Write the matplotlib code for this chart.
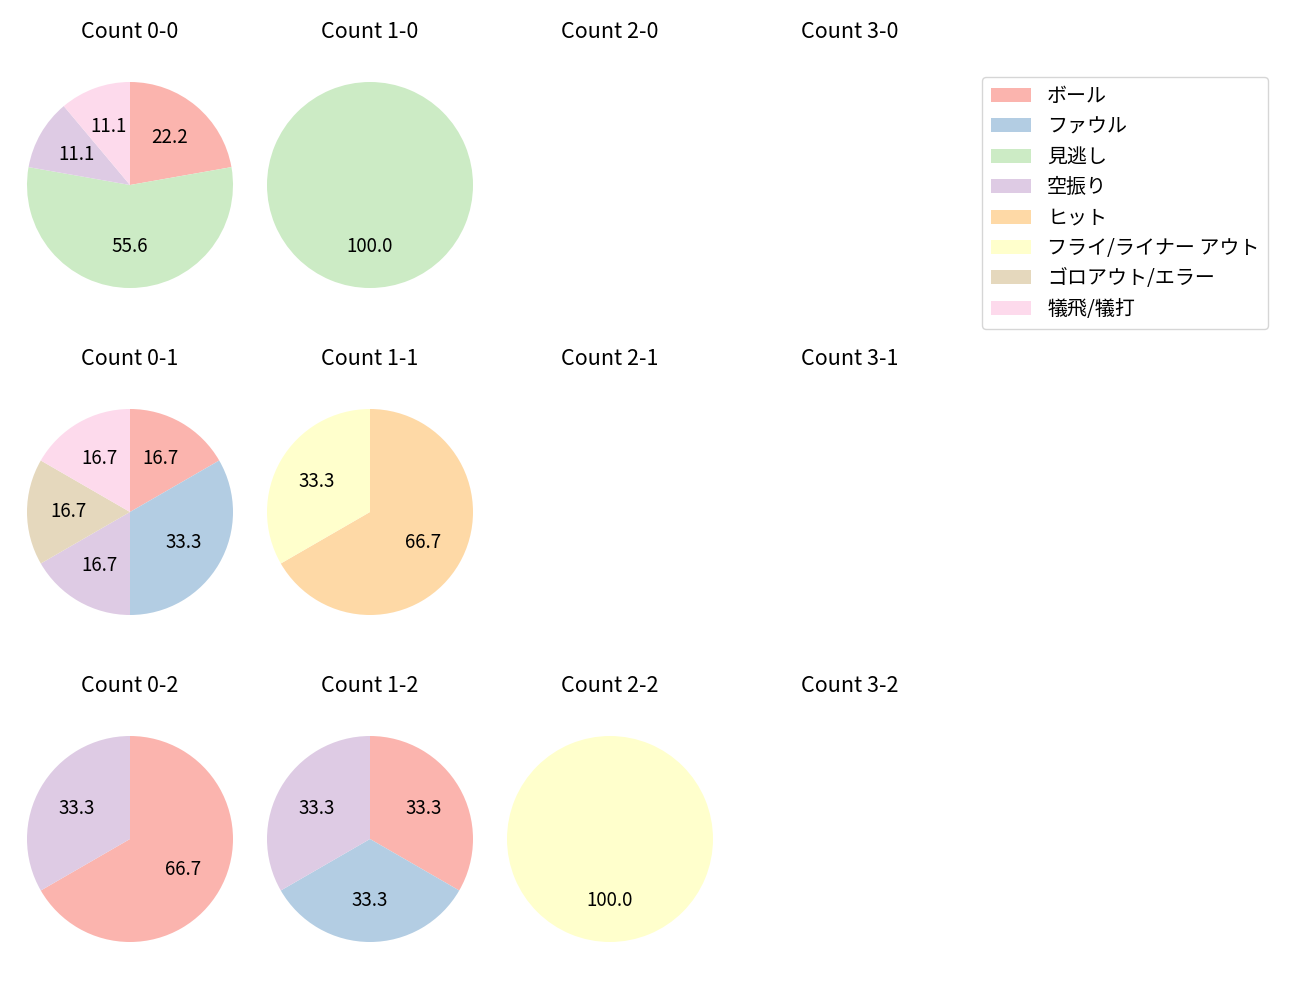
import matplotlib
matplotlib.use('Agg')
import matplotlib.pyplot as plt
from matplotlib.patches import Patch

plt.rcParams['font.family'] = ['Noto Sans CJK JP', 'DejaVu Sans']

# result categories (legend order)
labels = ['ボール', 'ファウル', '見逃し', '空振り', 'ヒット',
          'フライ/ライナー アウト', 'ゴロアウト/エラー', '犠飛/犠打']
colors = plt.cm.Pastel1.colors[:8]

# counts per ball-strike situation, in legend order
balls = [0, 1, 2, 3]
strikes = [0, 1, 2]
counts = {
    (0, 0): [2, 0, 5, 1, 0, 0, 0, 1],
    (1, 0): [0, 0, 1, 0, 0, 0, 0, 0],
    (2, 0): [0, 0, 0, 0, 0, 0, 0, 0],
    (3, 0): [0, 0, 0, 0, 0, 0, 0, 0],
    (0, 1): [1, 2, 0, 1, 0, 0, 1, 1],
    (1, 1): [0, 0, 0, 0, 2, 1, 0, 0],
    (2, 1): [0, 0, 0, 0, 0, 0, 0, 0],
    (3, 1): [0, 0, 0, 0, 0, 0, 0, 0],
    (0, 2): [2, 0, 0, 1, 0, 0, 0, 0],
    (1, 2): [1, 1, 0, 1, 0, 0, 0, 0],
    (2, 2): [0, 0, 0, 0, 0, 1, 0, 0],
    (3, 2): [0, 0, 0, 0, 0, 0, 0, 0],
}

W, H = 1300, 1000
fig = plt.figure(figsize=(13, 10), dpi=100)
r_px = 103

for s in strikes:
    for b in balls:
        cx = 130 + 240 * b
        cy = 185 + 327 * s
        ax = fig.add_axes([(cx - r_px) / W, 1 - (cy + r_px) / H, 2 * r_px / W, 2 * r_px / H])
        vals = counts[(b, s)]
        nz = [(v, c) for v, c in zip(vals, colors) if v > 0]
        if nz:
            ax.pie([v for v, _ in nz], colors=[c for _, c in nz], startangle=90,
                   counterclock=False, autopct='%.1f', pctdistance=0.6,
                   textprops={'fontsize': 13.5})
        ax.set_xlim(-1, 1)
        ax.set_ylim(-1, 1)
        ax.set_aspect('equal')
        ax.axis('off')
        ax.set_title(f'Count {b}-{s}', fontsize=15.5, pad=32)

handles = [Patch(facecolor=c, label=l) for c, l in zip(colors, labels)]
fig.legend(handles=handles, loc='upper left', bbox_to_anchor=(982 / W, 1 - 77 / H),
           borderaxespad=0, fontsize=14.4, labelspacing=0.47, borderpad=0.45)

fig.savefig('out.png', dpi=100)
